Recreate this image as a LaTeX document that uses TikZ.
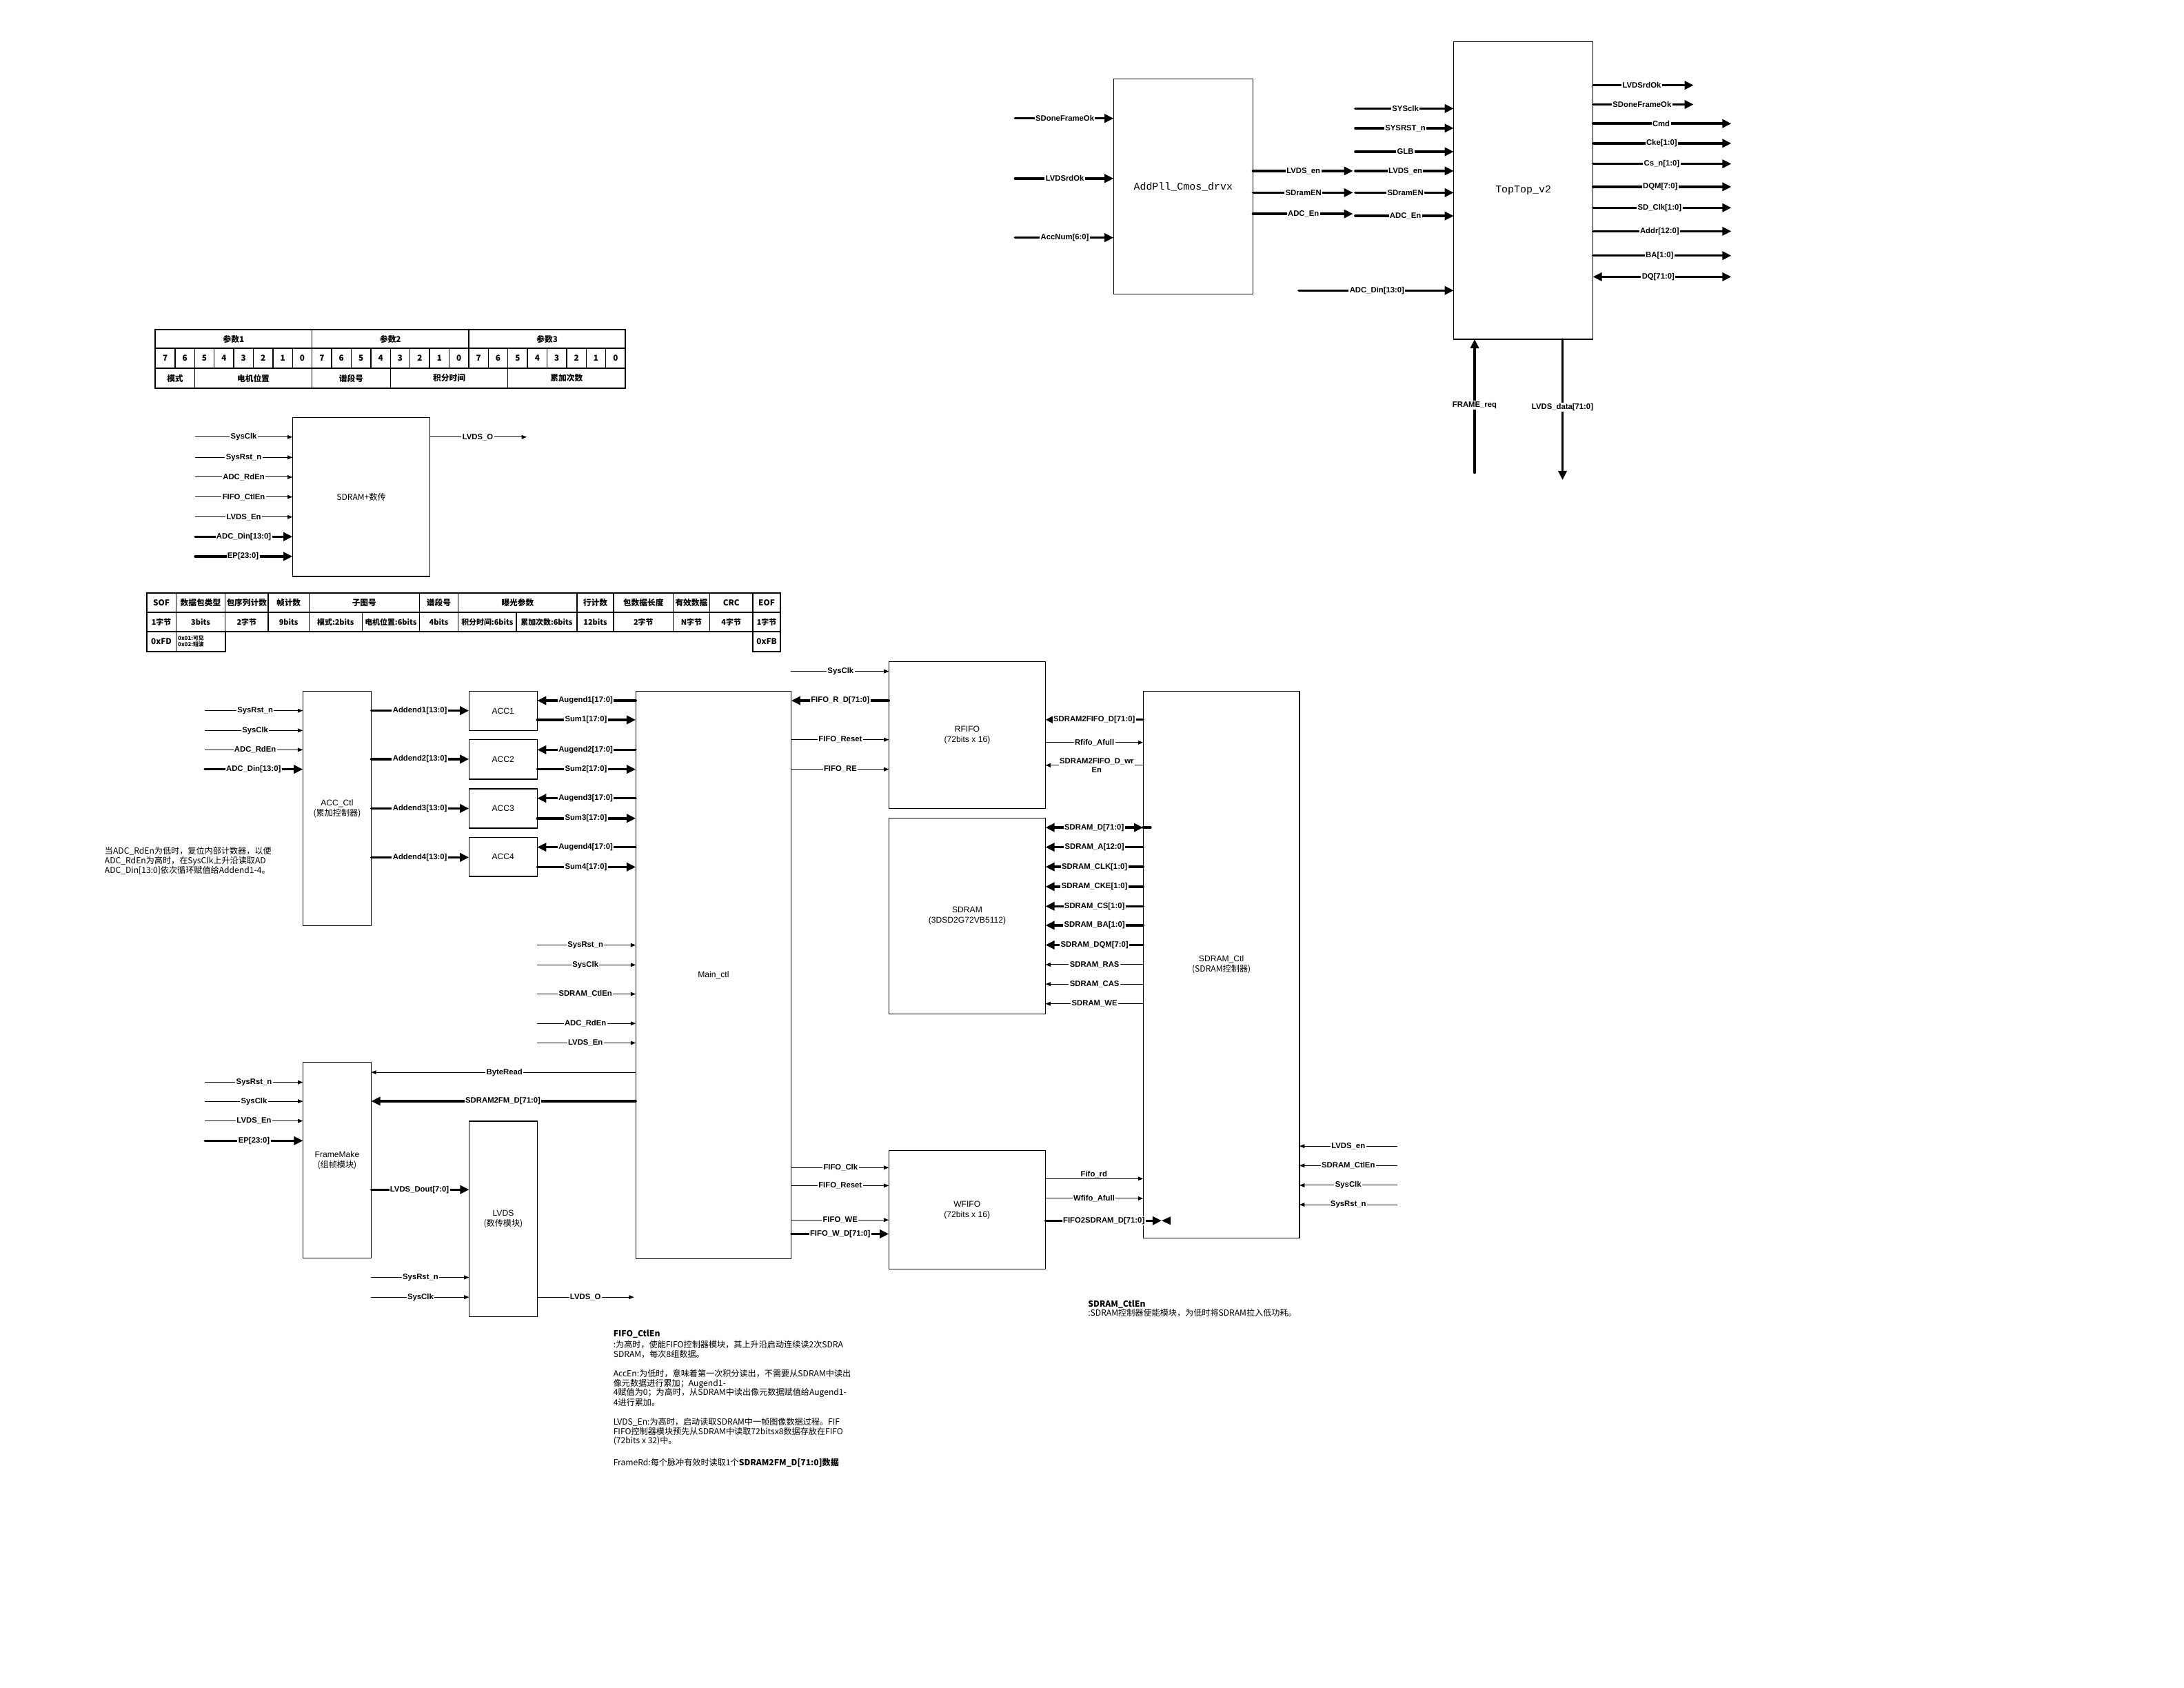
\documentclass[tikz,border=0pt]{standalone}
\usepackage{fontspec}
\setmainfont{Liberation Sans}
\newfontfamily\cjk{Noto Sans CJK SC}
\newfontfamily\mono{Liberation Mono}
\usetikzlibrary{arrows.meta}
\newcounter{sg}
% \sg{style}{start}{end}{y}{label}{label x}
\newcommand\sg[6]{%
  \stepcounter{sg}%
  \coordinate (a\thesg) at (#2|-0,#4);%
  \coordinate (b\thesg) at (#3|-0,#4);%
  \draw[#1] (a\thesg) -- (b\thesg);%
  \node[lab] (t\thesg) at (#6,#4) {#5};%
}
% \bx{name}{x1}{y1}{x2}{y2}{label}
\newcommand\bx[6]{\node[box,minimum width={(#4-#2)*1pt},minimum height={(#5-#3)*1pt}] (#1) at (#2,#3) {#6};}
\begin{document}
\begin{tikzpicture}[x=1pt,y=-1pt,
  box/.style={draw,line width=0.6pt,inner sep=0pt,outer sep=0pt,anchor=north west,align=center,font=\fontsize{6}{7.4}\selectfont},
  lab/.style={fill=white,inner sep=0.7pt,align=center,font=\bfseries\fontsize{5.6}{6.2}\selectfont},
  thn/.style={line width=0.5pt},
  tinar/.style={thn,-{Triangle[length=3.6pt,width=2.8pt]}},
  bus/.style={line width=1.7pt,line cap=round},
  busar/.style={bus,-{Triangle[length=6.5pt,width=6pt]}},
  bbar/.style={bus,{Triangle[length=6.5pt,width=6pt]}-{Triangle[length=6.5pt,width=6pt]}},
  tb/.style={inner sep=0pt,align=center,font=\cjk\bfseries\fontsize{5.8}{6.4}\selectfont},
  tl/.style={line width=0.7pt},
  note/.style={anchor=west,inner sep=0pt,font=\cjk\fontsize{6}{7}\selectfont}]
\fill[white] (0,0) rectangle (1568,1211.6);
\useasboundingbox (0,0) rectangle (1568,1211.6);

% ---------------- AddPll ----------------
\bx{addpll}{799.5}{56.6}{899.5}{211.2}{\mono\fontsize{7.4}{8}\selectfont AddPll\_Cmos\_drvx}
\sg{busar}{728.7,0}{addpll.west}{85.0}{SDoneFrameOk}{764.5}
\sg{busar}{728.7,0}{addpll.west}{128.1}{LVDSrdOk}{764.5}
\sg{busar}{728.7,0}{addpll.west}{170.6}{AccNum[6:0]}{764.5}
\sg{busar}{addpll.east}{971.4,0}{122.7}{LVDS\_en}{935.8}
\sg{busar}{addpll.east}{971.4,0}{138.3}{SDramEN}{935.8}
\sg{busar}{addpll.east}{971.4,0}{153.5}{ADC\_En}{935.8}

% ---------------- TopTop ----------------
\bx{toptop}{1043.7}{30}{1143.6}{243.5}{\mono\fontsize{7.4}{8}\selectfont TopTop\_v2}
\sg{busar}{973,0}{toptop.west}{77.9}{SYSclk}{1009}
\sg{busar}{973,0}{toptop.west}{92.0}{SYSRST\_n}{1009}
\sg{busar}{973,0}{toptop.west}{108.9}{GLB}{1009}
\sg{busar}{973,0}{toptop.west}{122.7}{LVDS\_en}{1009}
\sg{busar}{973,0}{toptop.west}{138.3}{SDramEN}{1009}
\sg{busar}{973,0}{toptop.west}{155.0}{ADC\_En}{1009}
\sg{busar}{932.4,0}{toptop.west}{208.5}{ADC\_Din[13:0]}{988.6}
\sg{busar}{toptop.east}{1215.9,0}{61.2}{LVDSrdOk}{1178.7}
\sg{busar}{toptop.east}{1215.9,0}{75.0}{SDoneFrameOk}{1178.9}
\sg{busar}{toptop.east}{1243,0}{88.7}{Cmd}{1192.6}
\sg{busar}{toptop.east}{1243,0}{102.9}{Cke[1:0]}{1193}
\sg{busar}{toptop.east}{1243,0}{117.6}{Cs\_n[1:0]}{1193}
\sg{busar}{toptop.east}{1243,0}{134.1}{DQM[7:0]}{1192}
\sg{busar}{toptop.east}{1243,0}{149.1}{SD\_Clk[1:0]}{1191.5}
\sg{busar}{toptop.east}{1243,0}{166.0}{Addr[12:0]}{1191.5}
\sg{busar}{toptop.east}{1243,0}{183.5}{BA[1:0]}{1191.5}
\sg{bbar}{toptop.east}{1243,0}{198.7}{DQ[71:0]}{1190.5}
\coordinate (frq) at (1058.7,339.3);
\draw[busar] (frq) -- (frq |- toptop.south);
\node[lab] (tfrq) at (1058.7,291) {FRAME\_req};
\coordinate (ldt) at (1121.8,344.5);
\draw[busar] (toptop.south -| ldt) -- (ldt);
\node[lab] (tldt) at (1121.8,292.4) {LVDS\_data[71:0]};

% ---------------- parameter table ----------------
\draw[line width=1pt] (111.6,236.8) rectangle (449,278.8);
\draw[tl] (111.6,250.0) -- (449,250.0);
\draw[tl] (111.6,264.2) -- (449,264.2);
\foreach \c in {8,16} \draw[tl] ({111.6+14.058*\c},236.8) -- ({111.6+14.058*\c},250.0);
\foreach \c in {1,...,23} \draw[tl] ({111.6+14.058*\c},250.0) -- ({111.6+14.058*\c},264.2);
\foreach \c in {2,8,12,18} \draw[tl] ({111.6+14.058*\c},264.2) -- ({111.6+14.058*\c},278.8);
\node[tb] (p1) at (167.8,243.4) {参数1};
\node[tb] (p2) at (280.3,243.4) {参数2};
\node[tb] (p3) at (392.8,243.4) {参数3};
\foreach \c in {0,...,23}{
  \pgfmathtruncatemacro\bitv{7-mod(\c,8)}
  \node[tb] (pb\c) at ({111.6+14.058*(\c+0.5)},257.1) {\bitv};}
\node[tb] (q1) at (125.7,271.5) {模式};
\node[tb] (q2) at (181.9,271.5) {电机位置};
\node[tb] (q3) at (252.2,271.5) {谱段号};
\node[tb] (q4) at (322.5,271.5) {积分时间};
\node[tb] (q5) at (406.8,271.5) {累加次数};

% ---------------- SDRAM+ block ----------------
\bx{sdp}{210.0}{299.5}{308.7}{413.8}{\cjk SDRAM+数传}
\sg{tinar}{140.1,0}{sdp.west}{313.7}{SysClk}{175}
\sg{tinar}{140.1,0}{sdp.west}{328.3}{SysRst\_n}{175}
\sg{tinar}{140.1,0}{sdp.west}{342.5}{ADC\_RdEn}{175}
\sg{tinar}{140.1,0}{sdp.west}{356.7}{FIFO\_CtlEn}{175}
\sg{tinar}{140.1,0}{sdp.west}{371.1}{LVDS\_En}{175}
\sg{busar}{140.1,0}{sdp.west}{385.2}{ADC\_Din[13:0]}{175}
\sg{busar}{140.1,0}{sdp.west}{399.4}{EP[23:0]}{174.5}
\sg{tinar}{sdp.east}{378.1,0}{313.7}{LVDS\_O}{343}

% ---------------- frame table ----------------
\draw[line width=1pt] (105.3,425.5) rectangle (560.4,453.5);
\draw[tl] (105.3,439.5) -- (560.4,439.5);
\foreach \x in {126.4,161.7,192.5,221.9,301.1,329.0,414.2,440.6,483.2,509.6,540.4}
  \draw[tl] (\x,425.5) -- (\x,439.5);
\foreach \x in {126.4,161.7,192.5,221.9,260.0,301.1,329.0,370.7,414.2,440.6,483.2,509.6,540.4}
  \draw[tl] (\x,439.5) -- (\x,453.5);
\draw[line width=1pt] (105.3,453.5) -- (105.3,467.5) -- (161.7,467.5) -- (161.7,453.5);
\draw[tl] (126.4,453.5) -- (126.4,467.5);
\draw[line width=1pt] (540.4,453.5) -- (540.4,467.5) -- (560.4,467.5) -- (560.4,453.5);
\foreach \x/\t [count=\k] in {115.85/SOF,144.05/数据包类型,177.1/包序列计数,207.2/帧计数,261.5/子图号,315.05/谱段号,371.6/曝光参数,427.4/行计数,461.9/包数据长度,496.4/有效数据,525/CRC,550.4/EOF}
  \node[tb] (fh\k) at (\x,432.5) {\t};
\foreach \x/\t [count=\k] in {115.85/1字节,144.05/3bits,177.1/2字节,207.2/9bits,240.95/模式:2bits,280.55/电机位置:6bits,315.05/4bits,349.85/积分时间:6bits,392.45/累加次数:6bits,427.4/12bits,461.9/2字节,496.4/N字节,525/4字节,550.4/1字节}
  \node[tb,font=\cjk\bfseries\fontsize{5.4}{6}\selectfont] (fr\k) at (\x,446.5) {\t};
\node[tb] (fx1) at (115.85,460.5) {0xFD};
\node[tb,anchor=west,align=left,font=\cjk\bfseries\fontsize{3.9}{4.7}\selectfont] (fx2) at (127.6,460.5) {0x01:可见\\0x02:短波};
\node[tb] (fx3) at (550.4,460.5) {0xFB};

% ---------------- ACC ----------------
\bx{accctl}{217.4}{496.3}{266.6}{664.4}{ACC\_Ctl\\\cjk(累加控制器)}
\bx{acc1}{336.7}{496.3}{385.7}{524.3}{ACC1}
\bx{acc2}{336.7}{531.0}{385.7}{559.3}{ACC2}
\bx{acc3}{336.7}{566.2}{385.7}{594.4}{ACC3}
\bx{acc4}{336.7}{601.0}{385.7}{629.1}{ACC4}
\bx{main}{456.4}{496.3}{568.1}{903.5}{Main\_ctl}
\sg{tinar}{147,0}{accctl.west}{510.1}{SysRst\_n}{183.2}
\sg{tinar}{147,0}{accctl.west}{524.3}{SysClk}{183.2}
\sg{tinar}{147,0}{accctl.west}{538.2}{ADC\_RdEn}{183.2}
\sg{busar}{147,0}{accctl.west}{552.2}{ADC\_Din[13:0]}{182}
\sg{busar}{accctl.east}{acc1.west}{510.1}{Addend1[13:0]}{301.5}
\sg{busar}{accctl.east}{acc2.west}{544.9}{Addend2[13:0]}{301.5}
\sg{busar}{accctl.east}{acc3.west}{580.3}{Addend3[13:0]}{301.5}
\sg{busar}{accctl.east}{acc4.west}{615.4}{Addend4[13:0]}{301.5}
\sg{busar}{main.west}{acc1.east}{502.9}{Augend1[17:0]}{420.5}
\sg{busar}{acc1.east}{main.west}{516.7}{Sum1[17:0]}{420.7}
\sg{busar}{main.west}{acc2.east}{538.2}{Augend2[17:0]}{420.5}
\sg{busar}{acc2.east}{main.west}{552.2}{Sum2[17:0]}{420.7}
\sg{busar}{main.west}{acc3.east}{573.0}{Augend3[17:0]}{420.5}
\sg{busar}{acc3.east}{main.west}{587.4}{Sum3[17:0]}{420.7}
\sg{busar}{main.west}{acc4.east}{608.1}{Augend4[17:0]}{420.5}
\sg{busar}{acc4.east}{main.west}{622.3}{Sum4[17:0]}{420.7}

% ---------------- Main inputs, FrameMake, LVDS ----------------
\sg{tinar}{385.4,0}{main.west}{678.4}{SysRst\_n}{420.3}
\sg{tinar}{385.4,0}{main.west}{692.6}{SysClk}{420.3}
\sg{tinar}{385.4,0}{main.west}{713.5}{SDRAM\_CtlEn}{420.3}
\sg{tinar}{385.4,0}{main.west}{734.6}{ADC\_RdEn}{420.3}
\sg{tinar}{385.4,0}{main.west}{748.6}{LVDS\_En}{420.3}
\bx{fm}{217.5}{762.5}{266.5}{902.9}{FrameMake\\\cjk(组帧模块)}
\bx{lvds}{336.8}{804.8}{385.8}{945.2}{LVDS\\\cjk(数传模块)}
\sg{tinar}{main.west}{fm.east}{769.7}{ByteRead}{362.2}
\sg{busar}{main.west}{fm.east}{790.4}{SDRAM2FM\_D[71:0]}{361.1}
\sg{tinar}{147.1,0}{fm.west}{776.9}{SysRst\_n}{182.4}
\sg{tinar}{147.1,0}{fm.west}{790.5}{SysClk}{182.4}
\sg{tinar}{147.1,0}{fm.west}{804.6}{LVDS\_En}{182.4}
\sg{busar}{147.1,0}{fm.west}{818.8}{EP[23:0]}{182.4}
\sg{busar}{fm.east}{lvds.west}{853.9}{LVDS\_Dout[7:0]}{301.2}
\sg{tinar}{266.3,0}{lvds.west}{916.9}{SysRst\_n}{301.9}
\sg{tinar}{266.3,0}{lvds.west}{931.1}{SysClk}{301.9}
\sg{tinar}{lvds.east}{455.2,0}{931.1}{LVDS\_O}{420.3}

% ---------------- RFIFO / SDRAM / WFIFO ----------------
\bx{rfifo}{638.2}{475.0}{750.6}{580.3}{RFIFO\\(72bits x 16)}
\bx{sdram}{638.2}{587.2}{750.6}{727.7}{SDRAM\\(3DSD2G72VB5112)}
\bx{wfifo}{638.1}{825.8}{750.5}{911.1}{WFIFO\\(72bits x 16)}
\bx{sdctl}{820.7}{496.0}{933.0}{888.8}{SDRAM\_Ctl\\\cjk(SDRAM控制器)}
\sg{tinar}{567.8,0}{rfifo.west}{481.9}{SysClk}{603.5}
\sg{busar}{rfifo.west}{main.east}{502.9}{FIFO\_R\_D[71:0]}{603.2}
\sg{tinar}{main.east}{rfifo.west}{530.9}{FIFO\_Reset}{603.3}
\sg{tinar}{main.east}{rfifo.west}{552.2}{FIFO\_RE}{603.3}
\sg{busar}{sdctl.west}{rfifo.east}{516.6}{SDRAM2FIFO\_D[71:0]}{785.6}
\sg{tinar}{rfifo.east}{sdctl.west}{533.0}{Rfifo\_Afull}{785.8}
\sg{tinar}{sdctl.west}{rfifo.east}{549.3}{SDRAM2FIFO\_D\_wr\\En}{787.4}
\sg{bbar}{sdram.east}{sdctl.west}{594.0}{SDRAM\_D[71:0]}{785.6}
\coordinate (sdst) at (826,594.0);
\draw[bus] (sdctl.west |- sdst) -- (sdst);
\sg{busar}{sdctl.west}{sdram.east}{608.1}{SDRAM\_A[12:0]}{785.8}
\sg{busar}{sdctl.west}{sdram.east}{622.2}{SDRAM\_CLK[1:0]}{785.8}
\sg{busar}{sdctl.west}{sdram.east}{636.4}{SDRAM\_CKE[1:0]}{785.8}
\sg{busar}{sdctl.west}{sdram.east}{650.5}{SDRAM\_CS[1:0]}{785.8}
\sg{busar}{sdctl.west}{sdram.east}{664.2}{SDRAM\_BA[1:0]}{785.8}
\sg{busar}{sdctl.west}{sdram.east}{678.3}{SDRAM\_DQM[7:0]}{785.8}
\sg{tinar}{sdctl.west}{sdram.east}{692.4}{SDRAM\_RAS}{785.8}
\sg{tinar}{sdctl.west}{sdram.east}{706.4}{SDRAM\_CAS}{785.8}
\sg{tinar}{sdctl.west}{sdram.east}{720.5}{SDRAM\_WE}{785.8}
\sg{tinar}{main.east}{wfifo.west}{838.1}{FIFO\_Clk}{603.5}
\sg{tinar}{main.east}{wfifo.west}{851.0}{FIFO\_Reset}{603.2}
\sg{tinar}{main.east}{wfifo.west}{875.7}{FIFO\_WE}{603.2}
\sg{busar}{main.east}{wfifo.west}{885.7}{FIFO\_W\_D[71:0]}{603.2}
\coordinate (frd1) at (wfifo.east |- 0,846.0);
\coordinate (frd2) at (sdctl.west |- 0,846.0);
\draw[tinar] (frd1) -- (frd2);
\node[lab,fill=none,anchor=south,inner sep=0.3pt] (tfrd) at (785.4,846.0) {Fifo\_rd};
\sg{tinar}{wfifo.east}{sdctl.west}{860.2}{Wfifo\_Afull}{785.5}
\sg{busar}{wfifo.east}{834,0}{876.2}{FIFO2SDRAM\_D[71:0]}{792.5}
\fill (834,876.2) -- (840.5,873.2) -- (840.5,879.2) -- cycle;
\sg{tinar}{1003.1,0}{sdctl.east}{822.7}{LVDS\_en}{968}
\sg{tinar}{1003.1,0}{sdctl.east}{836.6}{SDRAM\_CtlEn}{968}
\sg{tinar}{1003.1,0}{sdctl.east}{850.8}{SysClk}{968}
\sg{tinar}{1003.1,0}{sdctl.east}{864.7}{SysRst\_n}{968}

% ---------------- notes ----------------
\node[note] (nl1) at (75,611.0) {当ADC\_RdEn为低时，复位内部计数器，以便};
\node[note] (nl2) at (75,617.9) {ADC\_RdEn为高时，在SysClk上升沿读取AD};
\node[note] (nl3) at (75,624.8) {ADC\_Din[13:0]依次循环赋值给Addend1-4。};

\node[note,font=\cjk\bfseries\fontsize{6}{7}\selectfont] (nb1) at (440.2,957.5) {FIFO\_CtlEn};
\node[note] (nb2) at (440.2,965.4) {:为高时，使能FIFO控制器模块，其上升沿启动连续读2次SDRA};
\node[note] (nb3) at (440.2,972.0) {SDRAM，每次8组数据。};
\node[note] (nb4) at (440.2,986.1) {AccEn:为低时，意味着第一次积分读出，不需要从SDRAM中读出};
\node[note] (nb5) at (440.2,993.1) {像元数据进行累加；Augend1-};
\node[note] (nb6) at (440.2,999.9) {4赋值为0；为高时，从SDRAM中读出像元数据赋值给Augend1-};
\node[note] (nb7) at (440.2,1006.6) {4进行累加。};
\node[note] (nb8) at (440.2,1020.6) {LVDS\_En:为高时，启动读取SDRAM中一帧图像数据过程。FIF};
\node[note] (nb9) at (440.2,1027.6) {FIFO控制器模块预先从SDRAM中读取72bitsx8数据存放在FIFO};
\node[note] (nb10) at (440.2,1034.2) {(72bits x 32)中。};
\node[note] (nb11) at (440.2,1050.0) {FrameRd:每个脉冲有效时读取1个\textbf{SDRAM2FM\_D[71:0]数据}};

\node[note,font=\cjk\bfseries\fontsize{6}{7}\selectfont] (nr1) at (781,936.3) {SDRAM\_CtlEn};
\node[note] (nr2) at (781,942.5) {:SDRAM控制器使能模块，为低时将SDRAM拉入低功耗。};
\end{tikzpicture}
\end{document}
